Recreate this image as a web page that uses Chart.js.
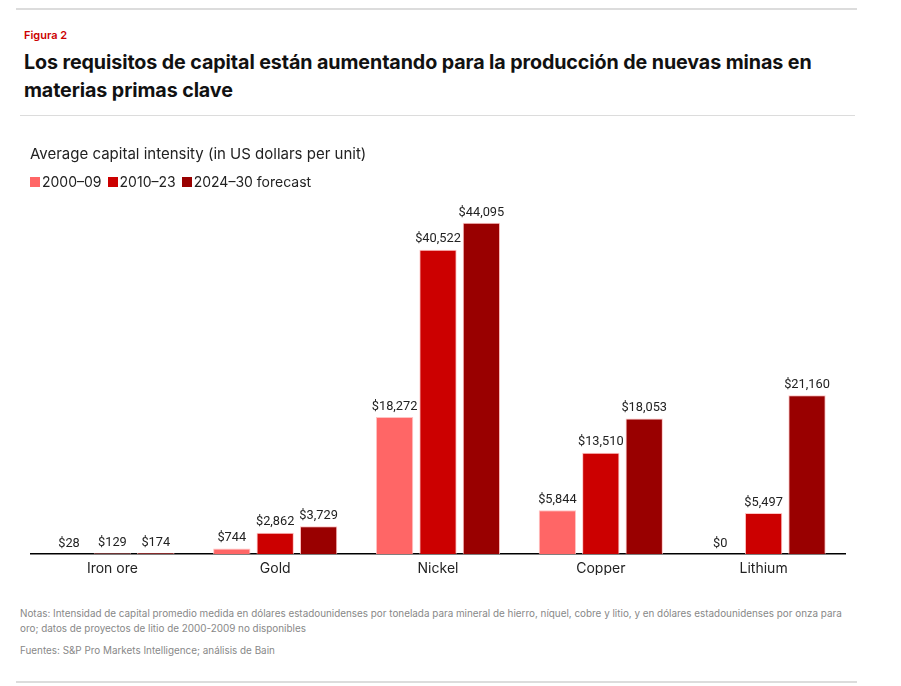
<!DOCTYPE html>
<html>
<head>
<meta charset="utf-8">
<script src="https://cdn.jsdelivr.net/npm/chart.js@4"></script>
<style>
  body { margin: 0; background: #fff; font-family: Inter, "Noto Sans", sans-serif; }
  .rule { position: absolute; background: #dcdcdc; }
  #fig { position: absolute; left: 24px; top: 28px; font-size: 11px; font-weight: 600; color: #cc0000; }
  #title { position: absolute; left: 24px; top: 48px; width: 820px; font-size: 19.7px; font-weight: 700; line-height: 28px; color: #111; letter-spacing: -0.1px; }
  #box { position: absolute; left: 20px; top: 126px; width: 835px; height: 462px; background: #fff; }
  #axisTitle { position: absolute; left: 30px; top: 144px; font-size: 15px; color: #222; }
  #legend { position: absolute; left: 30px; top: 173px; font-size: 14px; color: #222; display: flex; }
  #legend span { display: inline-flex; align-items: center; margin-right: 6px; }
  #legend i { display: inline-block; width: 10px; height: 10px; margin-right: 2px; }
  #notes { position: absolute; left: 20px; top: 606px; width: 836px; font-size: 9.9px; line-height: 15px; color: #888; }
  #src { position: absolute; left: 20px; top: 644px; font-size: 9.9px; color: #888; }
</style>
</head>
<body>
<div class="rule" style="left:16px;top:8px;width:841px;height:2px"></div>
<div id="fig">Figura 2</div>
<div id="title">Los requisitos de capital están aumentando para la producción de nuevas minas en materias primas clave</div>
<div class="rule" style="left:20px;top:115px;width:835px;height:1px"></div>
<div id="box"><canvas id="chart"></canvas></div>
<div id="axisTitle">Average capital intensity (in US dollars per unit)</div>
<div id="legend"></div>
<div id="notes">Notas: Intensidad de capital promedio medida en dólares estadounidenses por tonelada para mineral de hierro, níquel, cobre y litio, y en dólares estadounidenses por onza para oro; datos de proyectos de litio de 2000-2009 no disponibles</div>
<div id="src">Fuentes: S&amp;P Pro Markets Intelligence; análisis de Bain</div>
<div class="rule" style="left:16px;top:681px;width:841px;height:2px"></div>
<script>
// Data
const categories = ['Iron ore', 'Gold', 'Nickel', 'Copper', 'Lithium'];
const seriesNames = ['2000–09', '2010–23', '2024–30 forecast'];
const period2000 = [28, 744, 18272, 5844, 0];
const period2010 = [129, 2862, 40522, 13510, 5497];
const forecast2024 = [174, 3729, 44095, 18053, 21160];
const seriesColors = ['#ff6666', '#cc0000', '#990000'];

// Legend
document.getElementById('legend').innerHTML = seriesNames.map((n, i) =>
    `<span><i style="background:${seriesColors[i]}"></i>${n}</span>`).join('');

const barLabels = {
    id: 'barLabels',
    afterDatasetsDraw(chart) {
        const ctx = chart.ctx;
        ctx.save();
        ctx.font = '12.8px Roboto, sans-serif';
        ctx.fillStyle = '#222';
        ctx.textAlign = 'center';
        ctx.textBaseline = 'bottom';
        chart.data.datasets.forEach((ds, i) => {
            chart.getDatasetMeta(i).data.forEach((bar, j) => {
                ctx.fillText('$' + ds.data[j].toLocaleString('en-US'), bar.x, bar.y - 4);
            });
        });
        ctx.restore();
    }
};

const box = document.getElementById('box');
const canvas = document.getElementById('chart');
canvas.width = box.clientWidth;
canvas.height = box.clientHeight;

new Chart(canvas, {
    type: 'bar',
    data: {
        labels: categories,
        datasets: [period2000, period2010, forecast2024].map((d, i) => ({
            label: seriesNames[i],
            data: d,
            backgroundColor: seriesColors[i],
            borderColor: 'rgba(255,190,190,0.9)',
            borderWidth: 1,
            categoryPercentage: 0.8,
            barPercentage: 0.86
        }))
    },
    options: {
        responsive: false,
        animation: false,
        layout: { padding: { left: 11, right: 10, top: 75, bottom: 13 } },
        plugins: {
            legend: { display: false },
            tooltip: { enabled: false }
        },
        scales: {
            x: {
                grid: { display: false },
                border: { color: '#000', width: 1.5 },
                ticks: { color: '#222', font: { family: 'Inter, "Noto Sans", sans-serif', size: 14 }, padding: -2 }
            },
            y: { display: false, min: 0, max: 47000 }
        }
    },
    plugins: [barLabels]
});
</script>
</body>
</html>
